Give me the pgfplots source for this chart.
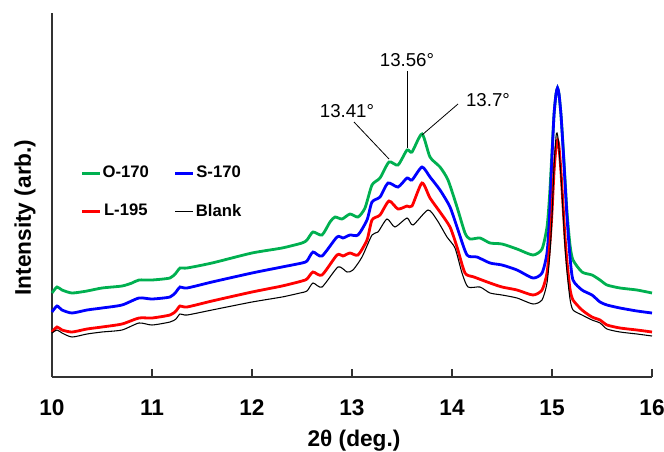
\documentclass[border=0pt]{standalone}
\usepackage{fontspec}
\setmainfont{Liberation Sans}
\usepackage{pgfplots}
\pgfplotsset{compat=1.18}
\definecolor{xgreen}{RGB}{0,176,80}
\definecolor{axgray}{RGB}{50,50,50}
\begin{document}
\begin{tikzpicture}
\useasboundingbox (-39pt,-55.5pt) rectangle (459pt,282.75pt);
\begin{axis}[
  at={(0pt,0pt)}, anchor=south west,
  scale only axis, width=450pt, height=273pt,
  xmin=10, xmax=16, ymin=0, ymax=364,
  axis lines=left, axis line style={-, line width=1pt, axgray},
  xtick={10,...,16}, ytick=\empty,
  tick align=inside, major tick length=6pt, tick style={line width=1pt, axgray},
  /pgf/number format/assume math mode=true,
  xticklabel style={font=\fontsize{17}{20}\selectfont\bfseries, anchor=base, yshift=-28.5pt},
  clip=false,
  legend columns=2,
  legend image code/.code={\draw[#1] (0pt,0pt) -- (13.5pt,0pt);},
  legend style={draw=none, fill=none, at={(axis cs:10.285,212)}, anchor=north west,
    font=\fontsize{12.5}{15}\selectfont\bfseries, inner sep=0pt, nodes={inner sep=0.8pt},
    row sep=16.5pt, /tikz/every even column/.append style={column sep=18pt}},
]
\addplot[xgreen, line width=2.1pt, smooth, tension=0.4] coordinates {
(10.00,84) (10.05,90) (10.10,87) (10.20,84) (10.35,86) (10.50,89) (10.70,91) (10.80,94)
(10.87,97) (11.00,97) (11.18,99) (11.24,104) (11.28,109) (11.35,109) (11.60,114) (12.00,124)
(12.30,129) (12.50,134) (12.55,137) (12.61,145) (12.70,142) (12.78,155) (12.83,160) (12.90,158)
(12.98,163) (13.06,160) (13.13,169) (13.20,192) (13.28,199) (13.37,215) (13.46,212) (13.55,227)
(13.60,225) (13.70,243) (13.78,220) (13.88,210) (13.96,197) (14.05,170) (14.13,144) (14.18,138)
(14.28,139) (14.38,134) (14.50,133) (14.65,128) (14.81,122) (14.90,128) (14.95,150) (14.975,180)
(15.00,225) (15.02,262) (15.04,283) (15.055,289) (15.07,283) (15.09,262) (15.11,232) (15.13,198)
(15.15,165) (15.18,132) (15.21,117) (15.30,105) (15.40,102) (15.48,97) (15.55,92)
(15.68,89) (15.85,87) (16.00,84)};
\addlegendentry{O-170}
\addplot[blue, line width=2.1pt, smooth, tension=0.4] coordinates {
(10.00,65) (10.05,71) (10.10,67) (10.20,64) (10.35,67) (10.50,69) (10.70,72) (10.87,79)
(11.00,78) (11.18,80) (11.24,85) (11.28,90) (11.35,89) (11.60,95) (12.00,104) (12.30,110)
(12.50,114) (12.55,116) (12.61,125) (12.70,121) (12.85,140) (12.91,139) (12.98,142) (13.06,142)
(13.15,157) (13.20,175) (13.28,180) (13.36,194) (13.46,190) (13.55,199) (13.60,197) (13.70,210)
(13.78,200) (13.88,187) (13.98,170) (14.06,147) (14.15,122) (14.25,120) (14.38,114) (14.50,112)
(14.65,107) (14.81,99) (14.90,104) (14.95,124) (14.975,160) (15.00,220) (15.02,262) (15.04,283)
(15.055,289) (15.07,283) (15.09,262) (15.11,230) (15.13,195) (15.15,160) (15.18,120)
(15.21,97) (15.30,87) (15.40,82) (15.48,75) (15.55,72) (15.68,69) (15.85,66) (16.00,64)};
\addlegendentry{S-170}
\addplot[red, line width=2.1pt, smooth, tension=0.4] coordinates {
(10.00,45) (10.05,50) (10.10,47) (10.20,45) (10.35,48) (10.50,50) (10.70,53) (10.87,59)
(11.00,59) (11.18,62) (11.24,66) (11.28,71) (11.35,70) (11.60,76) (12.00,85) (12.30,91)
(12.50,96) (12.55,98) (12.61,105) (12.70,102) (12.85,122) (12.91,121) (12.98,124) (13.06,122)
(13.15,137) (13.20,157) (13.28,162) (13.37,176) (13.46,168) (13.55,171) (13.60,171) (13.70,194)
(13.78,179) (13.88,165) (13.98,150) (14.05,130) (14.13,104) (14.22,100) (14.38,94) (14.50,90)
(14.65,87) (14.81,82) (14.90,87) (14.95,104) (14.98,135) (15.00,165) (15.02,205) (15.04,230)
(15.055,237) (15.07,230) (15.09,205) (15.11,172) (15.13,140) (15.15,115) (15.18,88)
(15.21,77) (15.30,67) (15.40,60) (15.48,57) (15.55,52) (15.68,49) (15.85,47) (16.00,45)};
\addlegendentry{L-195}
\addplot[black, line width=0.8pt, smooth, tension=0.4] coordinates {
(10.00,44) (10.05,47) (10.10,44) (10.20,40) (10.35,43) (10.50,45) (10.70,47) (10.87,54)
(11.00,52) (11.18,55) (11.24,58) (11.28,63) (11.35,62) (11.60,67) (12.00,75) (12.30,80)
(12.48,84) (12.55,86) (12.61,94) (12.70,90) (12.86,110) (12.95,105) (13.01,107) (13.10,120)
(13.20,142) (13.26,145) (13.35,158) (13.43,150) (13.55,159) (13.61,152) (13.76,167) (13.85,157)
(13.95,140) (14.03,129) (14.10,104) (14.16,90) (14.28,90) (14.38,84) (14.50,82) (14.65,79)
(14.81,73) (14.90,77) (14.95,94) (14.98,125) (15.00,160) (15.02,210) (15.04,240) (15.05,244)
(15.065,235) (15.09,200) (15.11,165) (15.13,130) (15.15,105) (15.18,78) (15.21,67)
(15.30,62) (15.40,57) (15.48,54) (15.55,48) (15.68,45) (15.85,43) (16.00,41)};
\addlegendentry{Blank}
\draw[black, line width=0.6pt] (axis cs:13.02,255) -- (axis cs:13.37,218);
\draw[black, line width=0.6pt] (axis cs:13.55,306) -- (axis cs:13.55,229);
\draw[black, line width=0.6pt] (axis cs:14.06,273) -- (axis cs:13.70,242);
\node[anchor=base, font=\fontsize{14}{16}\selectfont, inner sep=0pt] at (axis cs:12.95,260) {13.41°};
\node[anchor=base, font=\fontsize{14}{16}\selectfont, inner sep=0pt] at (axis cs:13.55,311) {13.56°};
\node[anchor=base, font=\fontsize{14}{16}\selectfont, inner sep=0pt] at (axis cs:14.36,271) {13.7°};
\end{axis}
\node[anchor=base, font=\fontsize{17}{20}\selectfont\bfseries, inner sep=0pt] at (226.5pt,-51.75pt) {2θ (deg.)};
\node[anchor=base, rotate=90, font=\fontsize{17}{20}\selectfont\bfseries, inner sep=0pt] at (-15.75pt,119.6pt) {Intensity (arb.)};
\end{tikzpicture}
\end{document}
